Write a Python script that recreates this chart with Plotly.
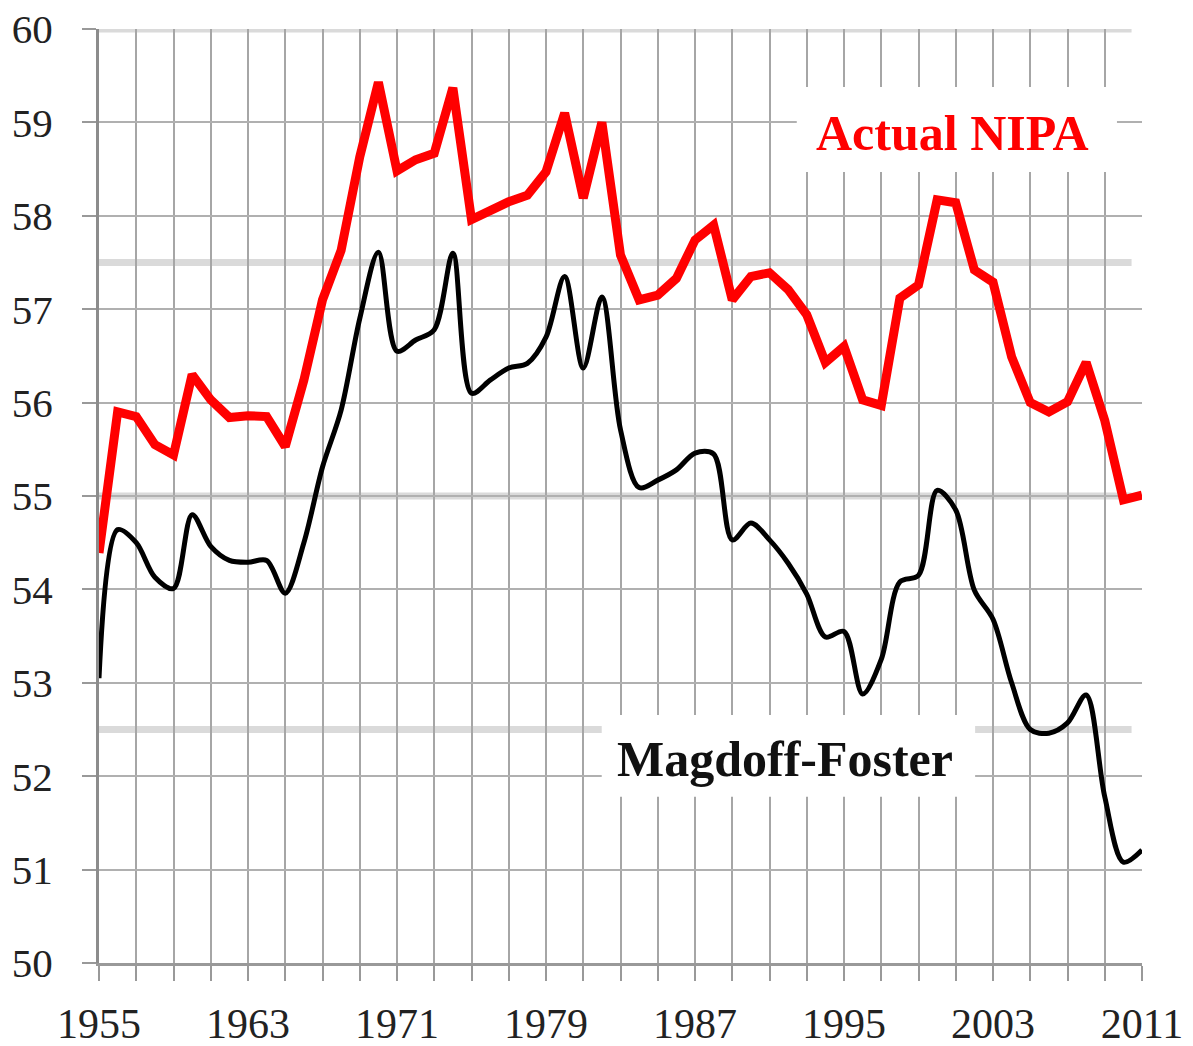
import plotly.graph_objects as go

years = list(range(1955, 2012))

actual_nipa = [
    54.39, 55.90, 55.85, 55.55, 55.44, 56.30, 56.03, 55.84, 55.86, 55.85,
    55.53, 56.24, 57.10, 57.63, 58.63, 59.43, 58.48, 58.60, 58.67, 59.37,
    57.96, 58.06, 58.15, 58.22, 58.47, 59.10, 58.19, 59.00, 57.58, 57.10,
    57.15, 57.33, 57.74, 57.90, 57.10, 57.35, 57.39, 57.21, 56.94, 56.43,
    56.60, 56.03, 55.97, 57.12, 57.26, 58.17, 58.14, 57.42, 57.29, 56.49,
    56.00, 55.90, 56.01, 56.43, 55.81, 54.96, 55.01,
]

magdoff_foster = [
    53.05, 54.64, 54.50, 54.13, 54.01, 54.80, 54.46, 54.31, 54.29, 54.31,
    53.96, 54.50, 55.31, 55.92, 56.90, 57.61, 56.55, 56.67, 56.78, 57.60,
    56.10, 56.24, 56.37, 56.42, 56.70, 57.35, 56.37, 57.13, 55.71, 55.09,
    55.17, 55.28, 55.46, 55.45, 54.53, 54.71, 54.53, 54.28, 53.95, 53.49,
    53.55, 52.88, 53.25, 54.08, 54.15, 55.06, 54.85, 53.99, 53.68, 53.00,
    52.50, 52.46, 52.57, 52.87, 51.78, 51.08, 51.21,
]

x_tick_vals = [1955, 1963, 1971, 1979, 1987, 1995, 2003, 2011]
y_tick_vals = list(range(50, 61))
band_levels = [60, 57.5, 55, 52.5]

fig = go.Figure()

fig.add_trace(go.Scatter(
    x=years, y=magdoff_foster, mode="lines",
    line=dict(color="black", width=5, shape="spline", smoothing=0.9),
    name="Magdoff-Foster", showlegend=False,
))
fig.add_trace(go.Scatter(
    x=years, y=actual_nipa, mode="lines",
    line=dict(color="#ff0000", width=9),
    name="Actual NIPA", showlegend=False,
))

shapes = []
for lvl in band_levels:
    shapes.append(dict(type="line", xref="paper", yref="y", x0=0, x1=0.99,
                       y0=lvl, y1=lvl, layer="below",
                       line=dict(color="#dadada", width=7)))
# white label boxes covering the grid
shapes.append(dict(type="rect", xref="paper", yref="paper",
                   x0=0.669, x1=0.976, y0=0.847, y1=0.938,
                   fillcolor="white", line=dict(width=0), layer="above"))
shapes.append(dict(type="rect", xref="paper", yref="paper",
                   x0=0.482, x1=0.840, y0=0.178, y1=0.2655,
                   fillcolor="white", line=dict(width=0), layer="above"))

# page body adds an 8px offset, so the figure is 8px smaller with trimmed margins
fig.update_layout(
    width=1185, height=1038,
    margin=dict(l=91, r=51, t=21, b=83, autoexpand=False),
    paper_bgcolor="white", plot_bgcolor="white",
    shapes=shapes,
    font=dict(family="Liberation Serif", color="#222222"),
    annotations=[
        dict(text="<b>Actual NIPA</b>", xref="paper", yref="paper",
             x=0.818, y=0.889, xanchor="center", yanchor="middle",
             showarrow=False,
             font=dict(family="Liberation Serif", size=50, color="#ff0000")),
        dict(text="<b>Magdoff-Foster</b>", xref="paper", yref="paper",
             x=0.658, y=0.218, xanchor="center", yanchor="middle",
             showarrow=False,
             font=dict(family="Liberation Serif", size=50, color="#111111")),
    ],
)

fig.update_xaxes(
    range=[1955, 2011], automargin=False,
    tickmode="array", tickvals=x_tick_vals,
    ticktext=[str(v) for v in x_tick_vals],
    tickfont=dict(family="Liberation Serif", size=42, color="#222222"),
    ticks="outside", ticklen=15, tickwidth=2, tickcolor="#999999",
    ticklabelstandoff=7, ticklabeloverflow="allow",
    showgrid=True, gridcolor="#a6a6a6", gridwidth=2,
    minor=dict(tick0=1955, dtick=2, showgrid=True, gridcolor="#a6a6a6",
               gridwidth=2, ticks="outside", ticklen=15, tickwidth=2,
               tickcolor="#999999"),
    showline=True, linecolor="#999999", linewidth=3,
    zeroline=False,
)
fig.update_yaxes(
    range=[50, 60], automargin=False,
    tickmode="array", tickvals=y_tick_vals,
    ticktext=[str(v) for v in y_tick_vals],
    tickfont=dict(family="Liberation Serif", size=41, color="#222222"),
    ticks="outside", ticklen=14, tickwidth=2, tickcolor="#999999",
    ticklabelstandoff=21, ticklabeloverflow="allow",
    showgrid=True, gridcolor="#b0b0b0", gridwidth=2,
    showline=True, linecolor="#8c8c8c", linewidth=3,
    zeroline=False,
)

fig.write_html("out.html")
